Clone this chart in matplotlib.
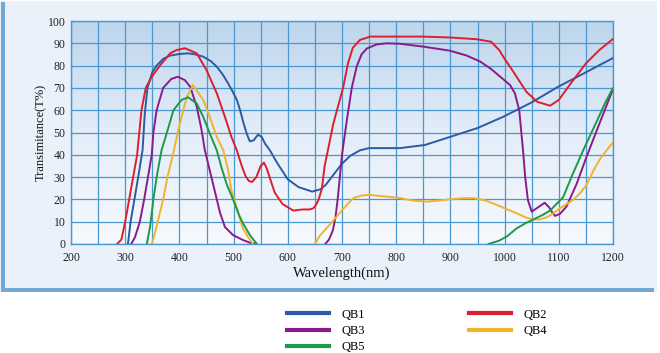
"""
Transmittance curves of QB filter glasses (QB1..QB5), framed-panel style.
"""

import matplotlib
matplotlib.use("Agg")
import matplotlib.pyplot as plt
import numpy as np
from matplotlib.colors import LinearSegmentedColormap
from matplotlib.lines import Line2D
from matplotlib.patches import Rectangle

# --- data (wavelength nm, transmittance %) ---
# NaN separates the two pass bands of a glass
QB1_WL = [305, 310, 317, 324, 332, 336, 341, 350, 358, 370, 383, 400, 416, 430, 444,
          458, 469, 480, 490, 499, 506, 512, 518, 524, 530, 537, 545, 552, 558, 567, 580,
          600, 620, 645, 660, 670, 684, 700, 715, 733, 750, 780, 807, 853, 899, 950,
          997, 1050, 1098, 1150, 1200]
QB1_T = [0, 10, 20, 30, 42, 58, 70, 77, 80, 83, 84.5, 85.2, 85.5, 85, 84,
         82, 79.5, 76, 72, 68, 64.6, 60, 54.5, 49.6, 46, 46.5, 49, 48, 45, 42, 36.5,
         29, 25.5, 23.5, 24.5, 26.5, 31, 36, 39.5, 42, 43, 43, 43, 44.4, 48, 52,
         57, 63.5, 70.4, 77, 83.4]

QB2_WL = [285, 293, 300, 311, 322, 326, 330, 338, 349, 364, 383, 395, 410, 432, 450,
          469, 484, 496, 506, 515, 522, 528, 534, 542, 550, 556, 561, 567, 576, 590,
          610, 628, 640, 647, 652, 657, 663, 668, 674, 684, 693, 702, 711, 720, 733,
          752, 783, 850, 900, 950, 975, 990, 1000, 1010, 1020, 1040, 1060, 1084, 1100,
          1120, 1150, 1175, 1200]
QB2_T = [0, 2, 10, 25, 40, 50, 60, 70, 75, 80, 85.5, 87, 87.8, 85.5, 78,
         67.6, 57, 48, 42, 35, 30.5, 28.3, 27.8, 30, 35, 36.5, 34, 29.5, 23, 18,
         15, 15.5, 15.5, 16, 17.5, 20, 25, 35, 42, 54, 62, 70, 81, 88, 91.5,
         93, 93, 93, 92.6, 91.8, 90.7, 87, 83, 79.5, 75.8, 68.3, 63.8, 62, 64.6,
         71.3, 81, 87, 92]

QB3_WL = [311, 318, 327, 335, 342, 349, 352, 358, 370, 385, 397, 410, 420, 432, 441,
          447, 455, 462, 475, 484, 499, 517, 530, 540, np.nan,
          669, 676, 683, 688, 692, 696, 700, 709, 718, 727, 736, 746, 764, 783, 807,
          850, 899, 930, 955, 975, 992, 1010, 1019, 1027, 1034, 1038, 1043, 1050,
          1056, 1065, 1074, 1082, 1087, 1093, 1102, 1114, 1133, 1151, 1175, 1200]
QB3_T = [0, 3, 10, 20, 30, 40, 50, 60, 70, 74, 75, 73.5, 70.5, 61.6, 51,
         42, 34, 27, 14, 7.6, 4, 1.8, 0.6, 0, np.nan,
         0, 2, 6, 12, 20, 30, 40, 55.6, 70, 79.5, 85, 87.7, 89.5, 90, 89.8,
         88.5, 86.7, 84.5, 81.8, 78.5, 75, 71.3, 67.6, 60, 42, 30, 19.7, 14.5,
         15.5, 17, 18.5, 16.5, 14.5, 12.6, 13.5, 16.7, 27, 39, 54, 69.5]

QB4_WL = [349, 355, 362, 370, 378, 388, 397, 405, 414, 425, 444, 456, 469, 481, 490,
          496, 506, 517, 527, 536, np.nan,
          650, 660, 675, 690, 705, 721, 737, 752, 780, 807, 830, 857, 880, 899, 920,
          942, 965, 986, 1005, 1022, 1040, 1053, 1065, 1078, 1090, 1102, 1126, 1139,
          1150, 1164, 1176, 1188, 1200]
QB4_T = [0, 5, 12, 20, 30, 40, 50, 58, 66, 71.3, 64.6, 57, 48, 42, 33,
         24, 16, 7, 3, 0, np.nan,
         0, 4, 8, 12.3, 16.5, 20.6, 21.8, 22, 21.3, 20.6, 19.5, 19, 19.5, 20, 20.5,
         20.6, 19.5, 17.5, 15.5, 13.8, 11.8, 11, 11, 12, 13.8, 16, 19.7, 22.7,
         26, 33, 38, 42, 45.5]

QB5_WL = [340, 346, 352, 358, 367, 377, 389, 404, 416, 432, 444, 456, 469, 478, 487,
          499, 510, 517, 530, 543, np.nan,
          970, 990, 1005, 1022, 1040, 1053, 1070, 1084, 1096, 1108, 1125, 1145, 1170,
          1185, 1200]
QB5_T = [0, 8, 20, 30, 42, 50, 60, 64.6, 65.8, 63, 57, 49.6, 42, 34, 27,
         20, 13, 9.4, 4, 0, np.nan,
         0, 1.5, 3.5, 7, 9.5, 11, 13, 15, 18, 21, 31, 42, 55,
         63, 70]

LABELS = ["QB1", "QB2", "QB3", "QB4", "QB5"]
COLORS = ["#2B5BA6", "#DC1F2E", "#8A1B8A", "#F0B42C", "#1B9A48"]
SERIES = [(QB1_WL, QB1_T), (QB2_WL, QB2_T), (QB3_WL, QB3_T), (QB4_WL, QB4_T), (QB5_WL, QB5_T)]

X_TICKS = list(range(200, 1201, 100))
Y_TICKS = list(range(0, 101, 10))

GRID = "#4B97CF"
PANEL = "#EBF1FB"
FRAME = "#72A8D4"

plt.rcParams["font.family"] = ["Liberation Serif", "DejaVu Serif"]

W, H = 660, 353
fig = plt.figure(figsize=(W / 100, H / 100), dpi=100)
fig.patch.set_facecolor("white")

# light panel with left/bottom frame bars
fig.add_artist(Rectangle((0, (H - 292) / H), 657 / W, 291 / H, transform=fig.transFigure,
                         facecolor=PANEL, edgecolor="none", zorder=0))
fig.add_artist(Rectangle((1 / W, (H - 292) / H), 4 / W, 290 / H, transform=fig.transFigure,
                         facecolor=FRAME, edgecolor="none", zorder=1))
fig.add_artist(Rectangle((1 / W, (H - 292) / H), 653 / W, 4 / H, transform=fig.transFigure,
                         facecolor=FRAME, edgecolor="none", zorder=1))

ax = fig.add_axes([71 / W, (H - 244) / H, 542 / W, 223 / H])
ax.set_xlim(200, 1200)
ax.set_ylim(0, 100)

# vertical gradient inside the plot (blue top -> near white bottom)
cmap = LinearSegmentedColormap.from_list("bg", ["#F6F9FD", "#E4EDF8", "#BDD5EC"])
grad = np.linspace(0, 1, 256).reshape(-1, 1)
ax.imshow(grad, cmap=cmap, aspect="auto", extent=[200, 1200, 0, 100], origin="lower", zorder=0)

ax.set_xticks(np.arange(200, 1201, 50), minor=True)
ax.set_xticks(X_TICKS)
ax.set_yticks(Y_TICKS)
ax.grid(True, which="both", axis="x", color=GRID, lw=0.9, zorder=1)
ax.grid(True, which="major", axis="y", color=GRID, lw=0.9, zorder=1)
ax.tick_params(which="both", length=0, labelsize=8.5, colors="#222222")
ax.tick_params(axis="x", pad=6)
ax.tick_params(axis="y", pad=4)
for s in ax.spines.values():
    s.set_color(GRID)
    s.set_linewidth(1.0)

for (wl, t), c in zip(SERIES, COLORS):
    ax.plot(wl, t, color=c, lw=1.4, zorder=3, solid_capstyle="round", solid_joinstyle="round")

ax.set_xlabel("Wavelength(nm)", fontsize=10.5, color="#111111")
ax.xaxis.set_label_coords(0.5, -0.1)
ax.set_ylabel("Transimitance(T%)", fontsize=9, color="#111111")
ax.yaxis.set_label_coords(-0.044, 0.5)

# legend below the panel: column 1 QB1/QB3/QB5, column 2 QB2/QB4
order = [0, 2, 4, 1, 3]
handles = [Line2D([], [], color=COLORS[i], lw=3) for i in order]
fig.legend(handles, [LABELS[i] for i in order], ncol=2, frameon=False,
           loc="upper left", bbox_to_anchor=(279 / W, (H - 301) / H),
           fontsize=9, handlelength=3.4, handletextpad=1.0, columnspacing=8.3,
           labelspacing=0.36, borderpad=0.1)

fig.savefig("out.png", dpi=100)
